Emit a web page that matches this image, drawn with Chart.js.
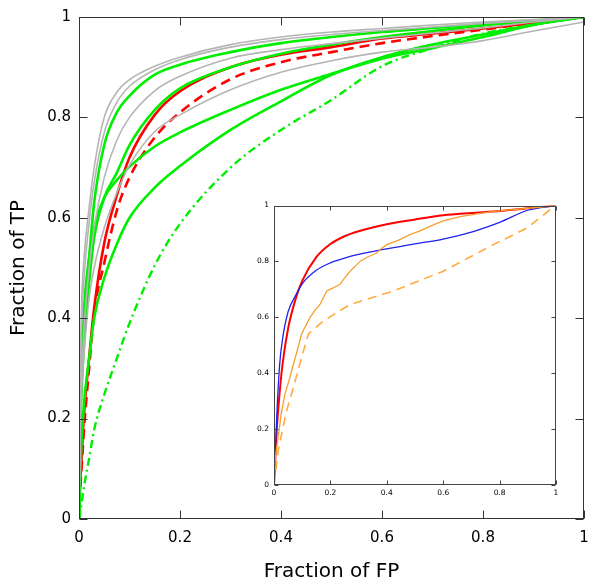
<!DOCTYPE html>
<html>
<head>
<meta charset="utf-8">
<script src="https://cdn.jsdelivr.net/npm/chart.js@4.4.0/dist/chart.umd.min.js"></script>
<style>
  body { margin: 0; background: #fff; }
  #wrap { position: relative; width: 600px; height: 584px; }
  #main { position: absolute; left: 0; top: 0; }
  #inset { position: absolute; left: 236px; top: 196px; }
</style>
</head>
<body>
<div id="wrap">
  <canvas id="main" width="600" height="584"></canvas>
  <canvas id="inset" width="330" height="310"></canvas>
</div>
<script>
// main plot: shared FP grid, one TP list per curve
const fpr = [0, 0.002, 0.005, 0.01, 0.02, 0.03, 0.05, 0.075, 0.1, 0.15, 0.2, 0.3, 0.4, 0.5, 0.6, 0.7, 0.8, 0.9, 1];

const grayA = [0, 0.25, 0.42, 0.52, 0.62, 0.70, 0.80, 0.85, 0.875, 0.902, 0.92, 0.945, 0.96, 0.97, 0.977, 0.984, 0.99, 0.995, 1];
const grayB = [0, 0.22, 0.38, 0.48, 0.59, 0.67, 0.77, 0.83, 0.862, 0.895, 0.915, 0.94, 0.955, 0.965, 0.973, 0.98, 0.987, 0.993, 1];
const grayD = [0, 0.18, 0.28, 0.38, 0.50, 0.58, 0.68, 0.755, 0.80, 0.853, 0.882, 0.918, 0.935, 0.947, 0.958, 0.968, 0.978, 0.99, 1];
const grayE = [0, 0.15, 0.25, 0.33, 0.44, 0.50, 0.58, 0.65, 0.705, 0.772, 0.805, 0.855, 0.89, 0.913, 0.93, 0.94, 0.953, 0.972, 0.99];

const green1 = [0, 0.20, 0.30, 0.40, 0.52, 0.63, 0.745, 0.81, 0.843, 0.885, 0.905, 0.93, 0.948, 0.96, 0.97, 0.978, 0.986, 0.993, 1];
const green2 = [0, 0.15, 0.25, 0.35, 0.47, 0.56, 0.64, 0.69, 0.745, 0.815, 0.858, 0.90, 0.927, 0.945, 0.96, 0.972, 0.983, 0.992, 1];
const green3 = [0, 0.20, 0.30, 0.42, 0.52, 0.58, 0.64, 0.675, 0.702, 0.742, 0.77, 0.815, 0.855, 0.887, 0.917, 0.938, 0.96, 0.984, 1];
const green4 = [0, 0.08, 0.15, 0.23, 0.32, 0.40, 0.48, 0.548, 0.60, 0.66, 0.703, 0.775, 0.832, 0.885, 0.92, 0.945, 0.965, 0.985, 1];
const greenDashDot = [0, 0.012, 0.03, 0.065, 0.12, 0.178, 0.248, 0.32, 0.39, 0.505, 0.588, 0.70, 0.775, 0.835, 0.902, 0.938, 0.967, 0.985, 1];

const redSolid = [0, 0.06, 0.12, 0.21, 0.32, 0.42, 0.55, 0.645, 0.72, 0.805, 0.852, 0.90, 0.925, 0.94, 0.957, 0.967, 0.977, 0.988, 1];
const redDashed = [0, 0.05, 0.10, 0.18, 0.30, 0.41, 0.51, 0.615, 0.68, 0.76, 0.81, 0.876, 0.91, 0.93, 0.948, 0.962, 0.975, 0.988, 1];

// inset
const insetFpr = [0, 0.005, 0.01, 0.02, 0.03, 0.05, 0.075, 0.1, 0.15, 0.2, 0.25, 0.3, 0.4, 0.5, 0.6, 0.7, 0.8, 0.9, 1];
const insetRed = [0, 0.10, 0.20, 0.33, 0.43, 0.56, 0.66, 0.73, 0.815, 0.862, 0.89, 0.908, 0.933, 0.95, 0.965, 0.973, 0.98, 0.99, 1];
const insetBlue = [0, 0.12, 0.25, 0.43, 0.52, 0.62, 0.675, 0.72, 0.768, 0.795, 0.812, 0.825, 0.845, 0.863, 0.88, 0.905, 0.94, 0.983, 1];

const orangeX = [0, 0.005, 0.015, 0.025, 0.039, 0.055, 0.069, 0.085, 0.098, 0.11, 0.128, 0.145, 0.163, 0.175, 0.187, 0.21, 0.234, 0.25, 0.27, 0.29, 0.305, 0.33, 0.364, 0.38, 0.4, 0.44, 0.482, 0.52, 0.565, 0.6, 0.66, 0.72, 0.778, 0.85, 0.92, 1];
const orangeY = [0, 0.10, 0.172, 0.25, 0.326, 0.38, 0.433, 0.49, 0.54, 0.565, 0.60, 0.625, 0.646, 0.67, 0.694, 0.705, 0.718, 0.74, 0.765, 0.785, 0.80, 0.815, 0.83, 0.845, 0.86, 0.875, 0.896, 0.91, 0.931, 0.945, 0.96, 0.97, 0.979, 0.985, 0.992, 1];
const orangeDashX = [0, 0.015, 0.045, 0.069, 0.098, 0.122, 0.15, 0.175, 0.27, 0.423, 0.6, 0.778, 0.896, 0.979, 1];
const orangeDashY = [0, 0.125, 0.267, 0.35, 0.457, 0.54, 0.565, 0.587, 0.646, 0.694, 0.765, 0.86, 0.919, 0.985, 1];

const ticks01 = [0, 0.2, 0.4, 0.6, 0.8, 1];

const pts = (xs, ys) => xs.map((x, i) => ({ x: x, y: ys[i] }));

// box around the plot plus inward ticks on all four sides
const frameTicks = {
  id: 'frameTicks',
  afterDatasetsDraw(chart, args, opts) {
    const { ctx, chartArea: a, scales: { x, y } } = chart;
    const L = Math.round(a.left) + 0.5, R = Math.round(a.right) - 0.5;
    const T = Math.round(a.top) + 0.5, B = Math.round(a.bottom) - 0.5;
    ctx.save();
    ctx.strokeStyle = opts.color;
    ctx.lineWidth = 1;
    ctx.strokeRect(L, T, R - L, B - T);
    ctx.beginPath();
    x.ticks.forEach(t => {
      const px = Math.round(x.getPixelForValue(t.value)) + 0.5;
      ctx.moveTo(px, B); ctx.lineTo(px, B - opts.len);
      ctx.moveTo(px, T); ctx.lineTo(px, T + opts.len);
    });
    y.ticks.forEach(t => {
      const py = Math.round(y.getPixelForValue(t.value)) + 0.5;
      ctx.moveTo(L, py); ctx.lineTo(L + opts.len, py);
      ctx.moveTo(R, py); ctx.lineTo(R - opts.len, py);
    });
    ctx.stroke();
    ctx.restore();
  }
};

function line(data, color, width, dash, tension) {
  return {
    data: data,
    borderColor: color,
    borderWidth: width,
    borderDash: dash || [],
    pointRadius: 0,
    fill: false,
    cubicInterpolationMode: tension === 0 ? 'default' : 'monotone',
    tension: 0
  };
}

function axis(pos, size, fontSize, pad, title) {
  return {
    type: 'linear',
    position: pos,
    min: 0, max: 1,
    afterBuildTicks: s => { s.ticks = ticks01.map(v => ({ value: v })); },
    afterFit: s => { if (pos === 'left') s.width = size; else s.height = size; },
    grid: { display: false, drawTicks: false },
    border: { display: false },
    ticks: { color: '#000', padding: pad, font: { family: 'DejaVu Sans', size: fontSize },
      callback: v => String(Math.round(v * 10) / 10) },
    title: title
  };
}

const GRAY = '#b5b5b5', GREEN = '#00ee00', RED = '#ff0000';

new Chart(document.getElementById('main'), {
  type: 'line',
  data: {
    datasets: [
      line(pts(fpr, grayA), GRAY, 1.6),
      line(pts(fpr, grayB), GRAY, 1.6),
      line(pts(fpr, grayD), GRAY, 1.6),
      line(pts(fpr, grayE), GRAY, 1.6),
      line(pts(fpr, green1), GREEN, 2.6),
      line(pts(fpr, green2), GREEN, 2.6),
      line(pts(fpr, green3), GREEN, 2.6),
      line(pts(fpr, green4), GREEN, 2.6),
      line(pts(fpr, greenDashDot), GREEN, 2.4, [8, 4, 2, 4]),
      line(pts(fpr, redDashed), RED, 2.6, [10, 6]),
      line(pts(fpr, redSolid), RED, 2.6)
    ]
  },
  options: {
    responsive: false,
    animation: false,
    devicePixelRatio: 1,
    layout: { padding: { top: 15, right: 16, left: 0, bottom: 0 } },
    plugins: { legend: { display: false }, tooltip: { enabled: false },
      frameTicks: { color: '#333', len: 8 } },
    scales: {
      x: axis('bottom', 65, 15, 10, { display: true, text: 'Fraction of FP', color: '#000',
        font: { family: 'DejaVu Sans', size: 20 }, padding: { top: 0, bottom: 0 } }),
      y: axis('left', 79, 15, 8, { display: true, text: 'Fraction of TP', color: '#000',
        font: { family: 'DejaVu Sans', size: 20 }, padding: { top: 7, bottom: 0 } })
    }
  },
  plugins: [frameTicks]
});

new Chart(document.getElementById('inset'), {
  type: 'line',
  data: {
    datasets: [
      line(pts(orangeDashX, orangeDashY), '#ffab40', 1.6, [9, 6], 0),
      line(pts(orangeX, orangeY), '#f4a030', 1.3, [], 0),
      line(pts(insetFpr, insetBlue), '#2020ee', 1.3),
      line(pts(insetFpr, insetRed), RED, 2)
    ]
  },
  options: {
    responsive: false,
    animation: false,
    devicePixelRatio: 1,
    layout: { padding: { top: 8, right: 10, left: 0, bottom: 0 } },
    plugins: { legend: { display: false }, tooltip: { enabled: false },
      frameTicks: { color: '#444', len: 4 } },
    scales: {
      x: axis('bottom', 21, 7.5, 4, { display: false }),
      y: axis('left', 38, 7.5, 5, { display: false })
    }
  },
  plugins: [frameTicks]
});
</script>
</body>
</html>
